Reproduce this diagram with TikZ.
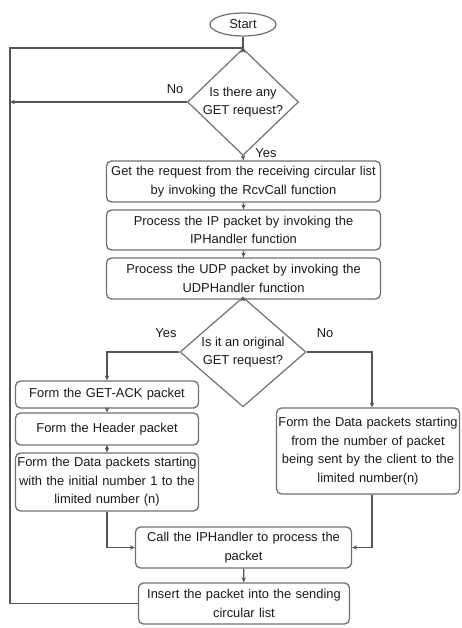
\documentclass[tikz,border=0pt]{standalone}
\usepackage{fontspec}
\setmainfont{Liberation Sans}
\definecolor{boxgray}{HTML}{707070}
\definecolor{linegray}{HTML}{555555}
\definecolor{txtdark}{HTML}{1A1A1A}
\usetikzlibrary{calc, positioning, shapes.geometric, arrows.meta}
\tikzset{
  procbox/.style={draw=boxgray, line width=1.3pt, rounded corners=5pt, align=center, inner sep=1pt, text=txtdark},
  decision/.style={diamond, draw=boxgray, line width=1.2pt, align=center, inner sep=-1pt, text=txtdark},
  startbox/.style={ellipse, draw=boxgray, line width=1.2pt, inner sep=0pt, text=txtdark},
  flow/.style={draw=linegray, line width=1.1pt},
  arr/.style={flow, -{Stealth[length=5pt, width=4.5pt]}},
  lbl/.style={text=txtdark, inner sep=0pt}
}

\begin{document}
\begin{tikzpicture}[x=1pt, y=-1pt, font=\fontsize{12.9}{18.5}\selectfont]
  \useasboundingbox (0,0) rectangle (461,628);

  % Main column
  \node[startbox, minimum width=66pt, minimum height=23pt] (start) at (243,24.5) {Start};
  \node[decision, minimum width=111pt, minimum height=92pt] (q1) at (243,102) {Is there any\\GET request?};
  \node[procbox, text width=272pt, minimum height=41pt] (rcv) at (243.5,181.5) {Get the request from the receiving circular list\\by invoking the RcvCall function};
  \node[procbox, text width=272pt, minimum height=40pt] (iph) at (243.5,230) {Process the IP packet by invoking the\\IPHandler function};
  \node[procbox, text width=272pt, minimum height=41pt] (udph) at (243.5,278.5) {Process the UDP packet by invoking the\\UDPHandler function};
  \node[decision, minimum width=126pt, minimum height=90pt] (q2) at (243,352) {Is it an original\\GET request?};

  % Yes branch
  \node[procbox, text width=181pt, minimum height=27pt] (ack) at (107,394.5) {Form the GET-ACK packet};
  \node[procbox, text width=181pt, minimum height=32pt] (hdr) at (107,429) {Form the Header packet};
  \node[procbox, text width=181pt, minimum height=58pt] (dat1) at (107,482) {Form the Data packets starting\\with the initial number 1 to the\\limited number (n)};

  % No branch
  \node[procbox, text width=181pt, minimum height=86pt] (dat2) at (368,451) {Form the Data packets starting\\from the number of packet\\being sent by the client to the\\limited number(n)};

  % Bottom
  \node[procbox, text width=214pt, minimum height=41pt] (callip) at (243.5,547.5) {Call the IPHandler to process the\\packet};
  \node[procbox, text width=209pt, minimum height=41pt] (ins) at (244,603.5) {Insert the packet into the sending\\circular list};

  % Labels
  \node[lbl] (no1) at (175,89) {No};
  \node[lbl] (yes1) at (266,153) {Yes};
  \node[lbl] (yes2) at (166,333) {Yes};
  \node[lbl] (no2) at (325,333) {No};

  % Connectors
  \coordinate (top) at (243,48);
  \coordinate (back) at (10,48);
  \draw[flow] (start) -- (top);
  \draw[arr] (top) -- (q1.north);
  \draw[arr] (q1.west) -- (q1.west -| back);
  \draw[arr] (q1.south) -- (rcv.north);
  \draw[arr] (rcv) -- (iph);
  \draw[arr] (iph) -- (udph);
  \draw[arr] (udph) -- (q2.north);
  \draw[arr] (q2.west) -| (ack.north);
  \draw[arr] (q2.east) -| ([xshift=4pt]dat2.north);
  \draw[arr] (ack) -- (hdr);
  \draw[arr] (hdr) -- (dat1);
  \draw[arr] (dat1.south) |- (callip.west);
  \draw[arr] ([xshift=4pt]dat2.south) |- (callip.east);
  \draw[arr] (callip) -- (ins);
  \draw[flow] (ins.west) -| (back) -- (top);
\end{tikzpicture}
\end{document}
